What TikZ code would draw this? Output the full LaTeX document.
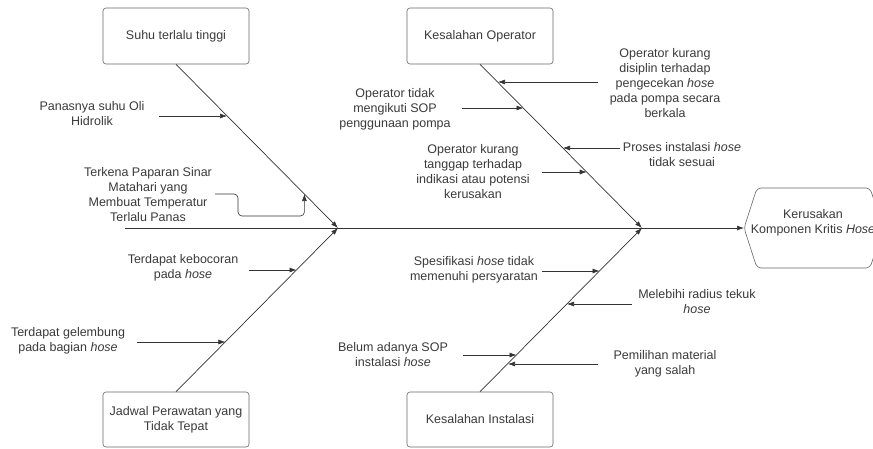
\documentclass[tikz,border=0pt]{standalone}
\usepackage{fontspec}
\setmainfont{Liberation Sans}
\usetikzlibrary{arrows.meta}
\definecolor{ln}{HTML}{333333}
\definecolor{bx}{HTML}{666666}
\definecolor{tx}{HTML}{3A3A3A}
\begin{document}
\begin{tikzpicture}[x=1pt,y=-1pt,
  lbl/.style={align=center,font=\fontsize{12.5}{15}\selectfont,text=tx,inner sep=0pt},
  cbox/.style={draw=bx,rounded corners=3pt,minimum width=146pt,minimum height=56pt,line width=0.6pt,align=center,font=\fontsize{12.5}{15}\selectfont,text=tx},
  rib/.style={draw=ln,line width=0.7pt,-{Latex[length=7pt,width=5pt]}},
  subar/.style={draw=ln,line width=0.6pt,-{Latex[length=7pt,width=5pt]}}]
\useasboundingbox (0,0) rectangle (873,448);
% category boxes
\node[cbox] (tlb) at (176,36) {Suhu terlalu tinggi};
\node[cbox] (tmb) at (480,36) {Kesalahan Operator};
\node[cbox,minimum height=55pt] (blb) at (176,419.5) {Jadwal Perawatan yang\\Tidak Tepat};
\node[cbox,minimum height=55pt] (bmb) at (480,419.5) {Kesalahan Instalasi};
% spine
\coordinate (tail) at (125,228);
\coordinate (j1) at (338,228);
\coordinate (j2) at (642,228);
\coordinate (headL) at (744,228);
\draw[draw=bx,line width=0.6pt,rounded corners=4pt] (headL) -- (757,188) -- (870,188) -- (883,228) -- (870,268) -- (757,268) -- cycle;
\node[lbl] (head) at (813,223) {Kerusakan\\Komponen Kritis \textit{Hose}};
\draw[rib] (tail) -- (headL);
% ribs
\draw[rib] (tlb.south) -- (j1);
\draw[rib] (blb.north) -- (j1);
\draw[rib] (tmb.south) -- (j2);
\draw[rib] (bmb.north) -- (j2);
% labels
\node[lbl] (t1) at (92,114) {Panasnya suhu Oli\\Hidrolik};
\node[lbl] (t2) at (148,195) {Terkena Paparan Sinar\\Matahari yang\\Membuat Temperatur\\Terlalu Panas};
\node[lbl] (t3) at (183,268) {Terdapat kebocoran\\pada \textit{hose}};
\node[lbl] (t4) at (68,341) {Terdapat gelembung\\pada bagian \textit{hose}};
\node[lbl] (t5) at (665,83) {Operator kurang\\disiplin terhadap\\pengecekan \textit{hose}\\pada pompa secara\\berkala};
\node[lbl] (t6) at (395,109) {Operator tidak\\mengikuti SOP\\penggunaan pompa};
\node[lbl] (t7) at (682,155) {Proses instalasi \textit{hose}\\tidak sesuai};
\node[lbl] (t8) at (473,172) {Operator kurang\\tanggap terhadap\\indikasi atau potensi\\kerusakan};
\node[lbl] (t9) at (474,270) {Spesifikasi \textit{hose} tidak\\memenuhi persyaratan};
\node[lbl] (t10) at (697,302) {Melebihi radius tekuk\\\textit{hose}};
\node[lbl] (t11) at (393,355) {Belum adanya SOP\\instalasi \textit{hose}};
\node[lbl] (t12) at (665,364) {Pemilihan material\\yang salah};
% sub-cause arrows
\coordinate (s1) at (159,116); \coordinate (e1) at (227,116);
\coordinate (s2) at (215,194); \coordinate (e2) at (304.4,194);
\coordinate (s3) at (249,270); \coordinate (e3) at (296.5,270);
\coordinate (s4) at (137,342); \coordinate (e4) at (225.4,342);
\coordinate (s5) at (598,82); \coordinate (e5) at (498,82);
\coordinate (s6) at (462,108); \coordinate (e6) at (523.5,108);
\coordinate (s7) at (620,148); \coordinate (e7) at (563,148);
\coordinate (s8) at (542,172); \coordinate (e8) at (586.7,172);
\coordinate (s9) at (542,271); \coordinate (e9) at (599.5,271);
\coordinate (s10) at (632,304); \coordinate (e10) at (567,304);
\coordinate (s11) at (463,355); \coordinate (e11) at (516.5,355);
\coordinate (s12) at (598,364); \coordinate (e12) at (508,364);
\draw[subar] (s1) -- (e1);
\draw[subar,rounded corners=4pt] (s2) -- (238,194) -- (238,216) -- (304.4,216) -- (e2);
\draw[subar] (s3) -- (e3);
\draw[subar] (s4) -- (e4);
\draw[subar] (s5) -- (e5);
\draw[subar] (s6) -- (e6);
\draw[subar] (s7) -- (e7);
\draw[subar] (s8) -- (e8);
\draw[subar] (s9) -- (e9);
\draw[subar] (s10) -- (e10);
\draw[subar] (s11) -- (e11);
\draw[subar] (s12) -- (e12);
\end{tikzpicture}
\end{document}
